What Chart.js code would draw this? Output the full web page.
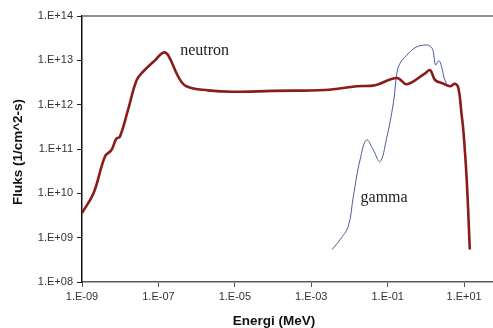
<!DOCTYPE html>
<html>
<head>
<meta charset="utf-8">
<script src="https://cdn.jsdelivr.net/npm/chart.js@4/dist/chart.umd.min.js"></script>
<style>
	html, body { margin: 0; padding: 0; background: #fff; }
	#wrap { width: 493px; height: 328px; }
</style>
</head>
<body>
<div id="wrap"><canvas id="chart_fluks"></canvas></div>
<script>
// Energi (MeV) og fluks (1/cm^2-s), lest av figuren
let neutronEnergi = [1e-9, 2.0e-9, 4.0e-9, 5.9e-9, 7.9e-9, 9.8e-9, 1.6e-8, 2.7e-8, 4.0e-8, 8.1e-8, 1.35e-7, 1.8e-7, 3.3e-7, 5.4e-7, 2.0e-6, 9.1e-6, 1e-4, 2.3e-3, 1.55e-2, 4.7e-2, 0.174, 0.316, 0.95, 1.29, 1.74, 2.8, 4.3, 5.75, 7.1, 8.5, 9.6, 11.7, 14.1];
let neutronFluks = [3.6e9, 1.0e10, 6.8e10, 9.5e10, 1.7e11, 1.9e11, 7.6e11, 3.6e12, 5.6e12, 1.0e13, 1.5e13, 1.3e13, 4.3e12, 2.6e12, 2.1e12, 1.95e12, 2.05e12, 2.15e12, 2.6e12, 2.75e12, 4.0e12, 2.9e12, 5.1e12, 6.0e12, 3.6e12, 3.0e12, 2.6e12, 2.95e12, 2.35e12, 6.5e11, 2.5e11, 2.0e10, 5.4e8];

let gammaEnergi = [3.5e-3, 5.6e-3, 9.3e-3, 1.26e-2, 1.9e-2, 2.8e-2, 4.2e-2, 6.3e-2, 9.3e-2, 0.141, 0.174, 0.209, 0.316, 0.51, 0.85, 1.29, 1.55, 1.78, 2.19, 2.57, 3.0, 3.47];
let gammaFluks = [5.4e8, 8.9e8, 1.8e9, 8.5e9, 5.8e10, 1.6e11, 9.5e10, 5.2e10, 1.7e11, 1.1e12, 5.1e12, 8.5e12, 1.3e13, 1.9e13, 2.2e13, 2.1e13, 1.6e13, 7.9e12, 9.8e12, 7.2e12, 4.0e12, 3.0e12];

let xTicks = [1e-9, 1e-7, 1e-5, 1e-3, 1e-1, 1e1];
let xTickLabels = ['1.E-09', '1.E-07', '1.E-05', '1.E-03', '1.E-01', '1.E+01'];
let yTicks = [1e8, 1e9, 1e10, 1e11, 1e12, 1e13, 1e14];
let yTickLabels = ['1.E+08', '1.E+09', '1.E+10', '1.E+11', '1.E+12', '1.E+13', '1.E+14'];

// tekst i diagrammet: [tekst, energi, fluks]
let etiketter = [
	['neutron', 3.7e-7, 1.6e13],
	['gamma', 1.95e-2, 8e9]
];

let neutronData = [];
neutronEnergi.map((e, i) => neutronData.push({x: e, y: neutronFluks[i]}));
let gammaData = [];
gammaEnergi.map((e, i) => gammaData.push({x: e, y: gammaFluks[i]}));

let tekstPlugin = {
	id: 'tekst',
	afterDraw(chart) {
		let ctx = chart.ctx;
		let a = chart.chartArea;
		let sx = chart.scales.x;
		let sy = chart.scales.y;
		ctx.save();
		// ramme oppe
		ctx.strokeStyle = '#6e6e6e';
		ctx.lineWidth = 1.5;
		ctx.beginPath();
		ctx.moveTo(a.left, a.top);
		ctx.lineTo(a.right, a.top);
		ctx.stroke();

		ctx.fillStyle = '#222';
		ctx.font = '16px "Liberation Serif", "Times New Roman", serif';
		ctx.textBaseline = 'middle';
		ctx.textAlign = 'left';
		etiketter.map(t => ctx.fillText(t[0], sx.getPixelForValue(t[1]), sy.getPixelForValue(t[2])));

		ctx.fillStyle = '#111';
		ctx.font = 'bold 13.5px "Liberation Sans", Arial, sans-serif';
		ctx.textAlign = 'center';
		ctx.fillText('Energi (MeV)', 274, 321);
		ctx.translate(18, 152);
		ctx.rotate(-Math.PI / 2);
		ctx.fillText('Fluks (1/cm^2-s)', 0, 0);
		ctx.restore();
	}
};

let ctx = document.getElementById('chart_fluks');
let grafFluks = new Chart(ctx, {
	type: 'scatter',
	data: {
		datasets: [
			{
				label: 'neutron',
				data: neutronData,
				showLine: true,
				borderColor: '#8a1c1c',
				borderWidth: 2.6,
				pointRadius: 0,
				tension: 0.4
			},
			{
				label: 'gamma',
				data: gammaData,
				showLine: true,
				borderColor: '#4f5a9c',
				borderWidth: 1,
				pointRadius: 0,
				tension: 0.4
			}
		]
	},
	options: {
		responsive: true,
		maintainAspectRatio: false,
		animation: false,
		layout: { padding: { top: 16, right: 0, left: 0, bottom: 0 } },
		plugins: { legend: { display: false }, tooltip: { enabled: false } },
		scales: {
			x: {
				type: 'logarithmic',
				min: 1e-9,
				max: 57,
				afterBuildTicks: s => { s.ticks = xTicks.map(v => ({value: v})); },
				afterFit: s => { s.height = 46; },
				ticks: {
					autoSkip: false,
					maxRotation: 0,
					padding: 3,
					color: '#333',
					font: { family: '"Liberation Sans", Arial, sans-serif', size: 11 },
					callback: (v, i) => xTickLabels[i]
				},
				grid: { drawOnChartArea: false, tickLength: 5, color: '#555' },
				border: { color: '#5a5a5a', width: 1.5 }
			},
			y: {
				type: 'logarithmic',
				min: 1e8,
				max: 1e14,
				afterBuildTicks: s => { s.ticks = yTicks.map(v => ({value: v})); },
				afterFit: s => { s.width = 82; },
				ticks: {
					autoSkip: false,
					padding: 4,
					color: '#333',
					font: { family: '"Liberation Sans", Arial, sans-serif', size: 11 },
					callback: (v, i) => yTickLabels[i]
				},
				grid: { drawOnChartArea: false, tickLength: 5, color: '#222' },
				border: { color: '#111', width: 1.5 }
			}
		}
	},
	plugins: [tekstPlugin]
});
</script>
</body>
</html>
